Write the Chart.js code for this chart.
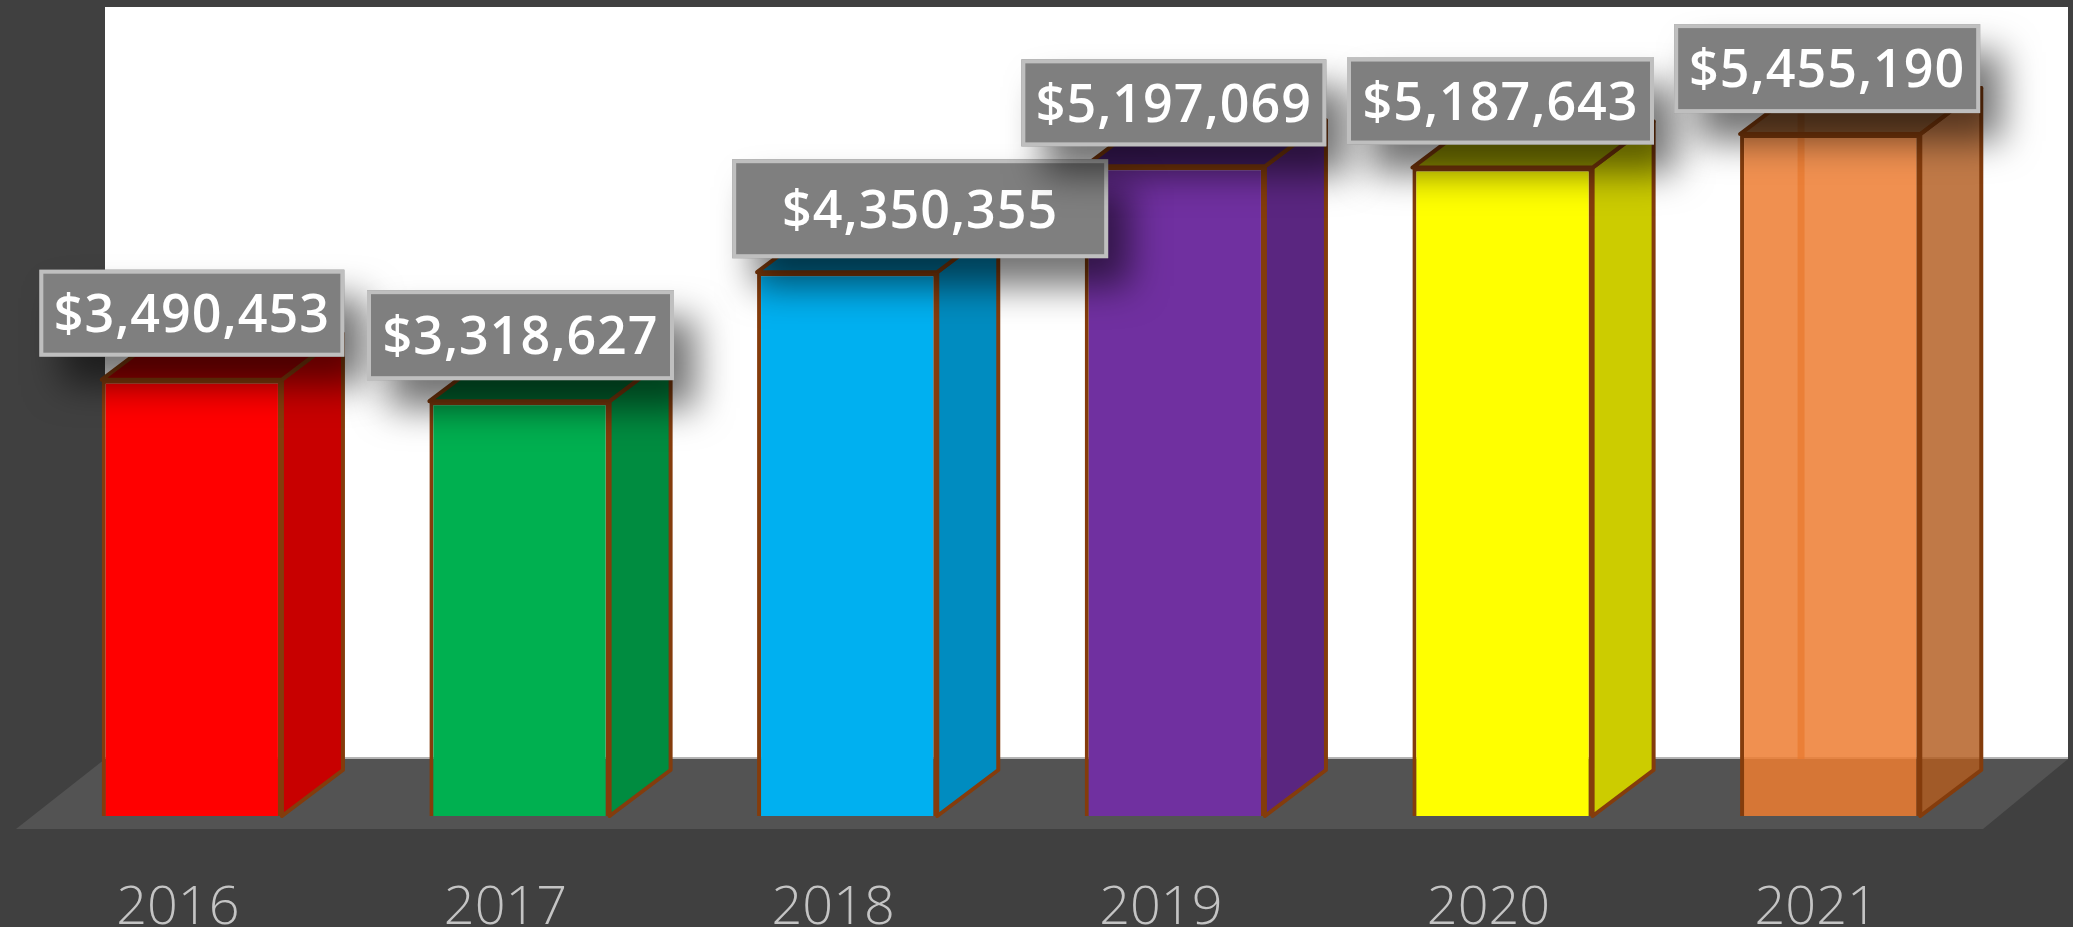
<!DOCTYPE html>
<html>
<head>
<meta charset="utf-8">
<script src="https://cdn.jsdelivr.net/npm/chart.js@4/dist/chart.umd.min.js"></script>
<style>html,body{margin:0;padding:0;background:#404040;overflow:hidden}canvas{display:block}</style>
</head>
<body>
<canvas id="c" width="2073" height="927"></canvas>
<script>
const categories = ['2016','2017','2018','2019','2020','2021'];
const values = [3490453,3318627,4350355,5197069,5187643,5455190];

const frontColors = ['#FF0000','#00B050','#00B0F0','#7030A0','#FFFF00','rgba(237,125,49,0.85)'];
const sideColors  = ['#C80000','#008C40','#008CC0','#5A2680','#CCCC00','rgba(178,92,30,0.82)'];
const topColors   = ['#A00000','#007034','#0078A4','#4A2070','#A0A000','rgba(130,72,28,0.9)'];
const edgeColor = '#843C0C';

// Label call-outs: horizontal shift from the bar centre, lift above the bar top, box size
const labelShift = [0,1,73,-1,-2,-3];
const labelLift  = [23,21,14,20,23,21];
const labelWidth = [305,307,376,305,307,306];
const labelHeight= [87,90,99,87,87,89];

const DX = 61, DY = 46;

const scenePlugin = {
  id:'scene',
  beforeDraw(chart){
    const {ctx,width,height,chartArea:a} = chart;
    ctx.save();
    ctx.fillStyle='#404040';
    ctx.fillRect(0,0,width,height);
    const wallL=a.left+77, wallR=a.right+74, wallB=a.bottom-57, floorB=a.bottom+13;
    ctx.fillStyle='#FFFFFF';
    ctx.fillRect(wallL,a.top+1,wallR-wallL,wallB-a.top-1);
    ctx.fillStyle='#535353';
    ctx.beginPath();
    ctx.moveTo(wallL,wallB);ctx.lineTo(wallR,wallB);
    ctx.lineTo(a.right-11,floorB);ctx.lineTo(a.left-12,floorB);
    ctx.closePath();ctx.fill();
    ctx.fillStyle='#B4B4B4';
    ctx.fillRect(wallL,wallB-2,wallR-wallL,2);
    ctx.restore();
  },
  beforeDatasetsDraw(chart){
    const {ctx} = chart;
    const bars = chart.getDatasetMeta(0).data;
    ctx.save();
    ctx.lineWidth=4;
    ctx.strokeStyle=edgeColor;
    ctx.lineJoin='round';
    bars.forEach((b,i)=>{
      const l=b.x-b.width/2, r=b.x+b.width/2, t=b.y, bt=b.base;
      if(i===5){
        // back-left edge seen through the translucent bar
        ctx.save();
        ctx.strokeStyle='rgba(205,105,35,0.75)';
        ctx.lineWidth=7;
        ctx.beginPath();ctx.moveTo(l+DX,t-DY);ctx.lineTo(l+DX,bt-57);ctx.stroke();
        ctx.restore();
      }
      ctx.fillStyle=sideColors[i];
      ctx.beginPath();
      ctx.moveTo(r,t);ctx.lineTo(r+DX,t-DY);ctx.lineTo(r+DX,bt-DY);ctx.lineTo(r,bt);
      ctx.closePath();ctx.fill();ctx.stroke();
      ctx.fillStyle=topColors[i];
      ctx.beginPath();
      ctx.moveTo(l,t);ctx.lineTo(l+DX,t-DY);ctx.lineTo(r+DX,t-DY);ctx.lineTo(r,t);
      ctx.closePath();ctx.fill();ctx.stroke();
    });
    ctx.restore();
  },
  afterDatasetsDraw(chart){
    const {ctx} = chart;
    const bars = chart.getDatasetMeta(0).data;
    ctx.save();
    bars.forEach((b,i)=>{
      const w=labelWidth[i],h=labelHeight[i];
      const x=b.x+labelShift[i]-w/2, y=b.y-labelLift[i]-h;
      ctx.save();
      ctx.shadowColor='rgba(0,0,0,0.55)';
      ctx.shadowBlur=36;
      ctx.shadowOffsetX=22;
      ctx.shadowOffsetY=28;
      ctx.fillStyle='#7F7F7F';
      ctx.fillRect(x,y,w,h);
      ctx.restore();
      ctx.strokeStyle='#BFBFBF';
      ctx.lineWidth=4;
      ctx.strokeRect(x+2,y+2,w-4,h-4);
      ctx.fillStyle='#FFFFFF';
      ctx.font='600 52px "Open Sans"';
      ctx.letterSpacing='1px';
      ctx.textAlign='center';
      ctx.textBaseline='middle';
      ctx.fillText('$'+values[i].toLocaleString('en-US'),x+w/2,y+h/2+4);
    });
    ctx.restore();
  }
};

new Chart(document.getElementById('c'),{
  type:'bar',
  data:{
    labels:categories,
    datasets:[{
      data:values,
      backgroundColor:frontColors,
      borderColor:edgeColor,
      borderWidth:4,
      barPercentage:0.55,
      categoryPercentage:1
    }]
  },
  options:{
    responsive:false,
    animation:false,
    layout:{padding:{left:28,right:79,top:6,bottom:0}},
    plugins:{legend:{display:false},tooltip:{enabled:false}},
    scales:{
      x:{
        grid:{display:false,drawTicks:false},
        border:{display:false},
        afterFit(s){s.height=111;},
        ticks:{
          color:'#C4C4C4',
          font:{family:'"Open Sans"',size:54,weight:'300'},
          padding:60,
          labelOffset:-14,
          maxRotation:0
        }
      },
      y:{display:false,min:0,max:6480000}
    }
  },
  plugins:[scenePlugin]
});
</script>
</body>
</html>
